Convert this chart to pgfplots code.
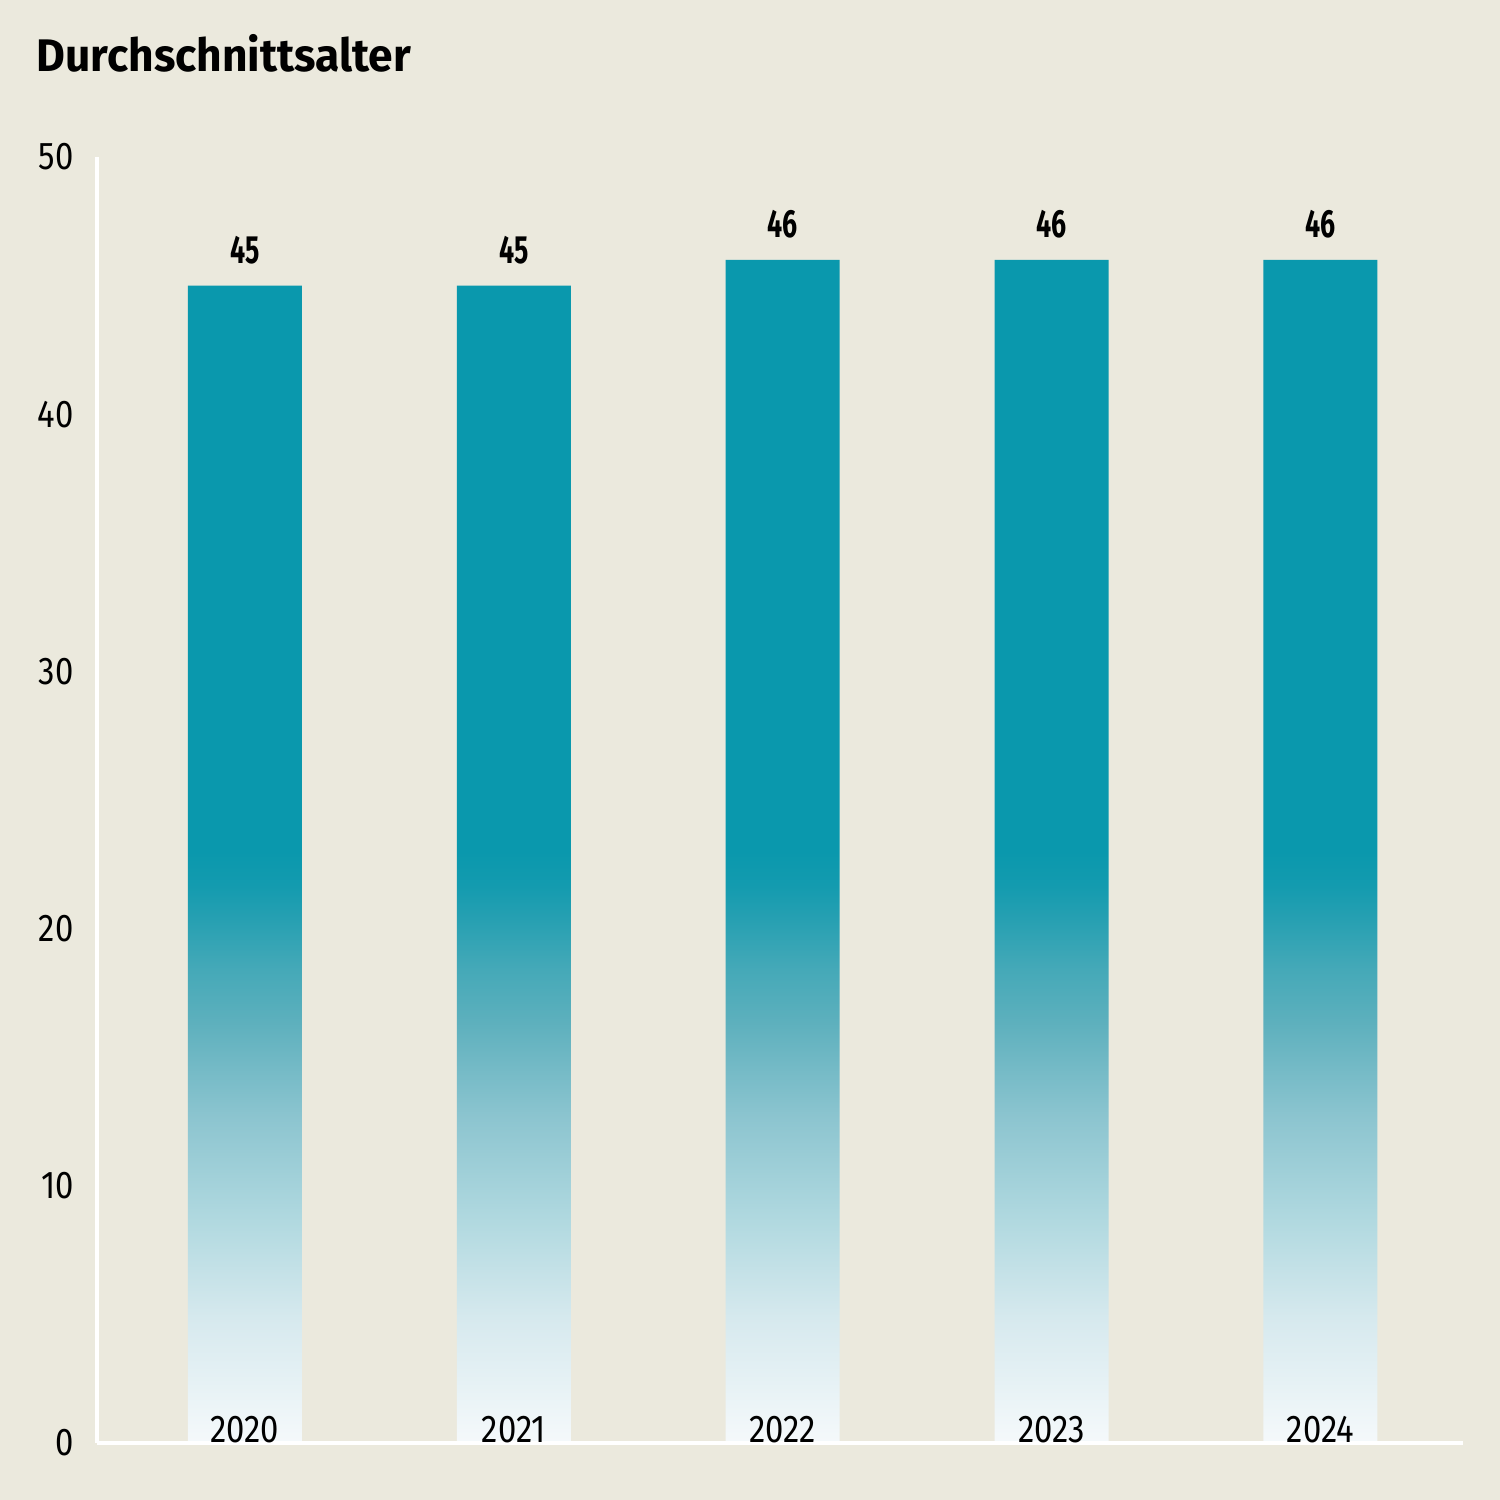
\documentclass[border=0pt]{standalone}
\usepackage{fontspec}
\setmainfont{Fira Sans}
\newfontfamily\titlefont[FakeStretch=0.97]{Fira Sans}
\newfontfamily\tickfont[FakeStretch=0.85]{Fira Sans}
\newfontfamily\valfont[FakeStretch=0.68]{Fira Sans}
\usepackage{pgfplots}
\pgfplotsset{compat=1.18}

\definecolor{bg}{HTML}{EBE9DD}
\definecolor{tealbar}{HTML}{0A98AD}
\definecolor{c0}{HTML}{F5F9FB}
\definecolor{c1}{HTML}{D6E9EE}
\definecolor{c2}{HTML}{AFD8DF}
\definecolor{c3}{HTML}{8BC4CF}
\definecolor{c4}{HTML}{5DB0BD}
\definecolor{c5}{HTML}{45A9B8}
\definecolor{c6}{HTML}{27A0B2}
\definecolor{c7}{HTML}{139BAF}

% bar box maps to 25bp..75bp of the shading
\pgfdeclareverticalshading{barshade}{100bp}{%
  color(0bp)=(c0); color(25bp)=(c0); color(30.3bp)=(c1);
  color(34.6bp)=(c2); color(38.9bp)=(c3); color(42.8bp)=(c4);
  color(45bp)=(c5); color(47.1bp)=(c6); color(48.6bp)=(c7);
  color(50bp)=(tealbar); color(100bp)=(tealbar)}

\pgfplotstableread{
x year value
0 2020 45
1 2021 45
2 2022 46
3 2023 46
4 2024 46
}\agedata

\begin{document}
\begin{tikzpicture}
  \fill[bg] (-9.7mm,-5.7mm) rectangle (140.3mm,144.3mm);
  \node[anchor=base west, inner sep=0pt, font=\fontsize{13}{15}\selectfont\titlefont\bfseries]
    at (-6.1mm,137.1mm) {Durchschnittsalter};
  \begin{axis}[
    at={(0,0)}, anchor=south west,
    scale only axis,
    width=136.6mm, height=128.6mm,
    xmin=-0.55, xmax=4.53,
    ymin=0, ymax=50,
    axis x line=bottom, axis y line=left,
    axis line style={white, line width=0.4mm, -},
    axis on top,
    major tick length=0pt,
    xtick={0,...,4},
    xticklabels={2020,2021,2022,2023,2024},
    ytick={0,10,...,50},
    xticklabel style={anchor=base, yshift=0.1mm, font=\fontsize{11}{13}\selectfont\tickfont},
    yticklabel style={xshift=-1.1mm, font=\fontsize{11}{13}\selectfont\tickfont},
    /pgf/number format/assume math mode=true,
    nodes near coords,
    nodes near coords style={font=\fontsize{11.2}{13}\selectfont\valfont\bfseries, black, yshift=0.9mm},
  ]
    \addplot[ybar, bar width=11.4mm, draw=none, shade, shading=barshade]
      table[x=x, y=value] {\agedata};
  \end{axis}
\end{tikzpicture}
\end{document}
